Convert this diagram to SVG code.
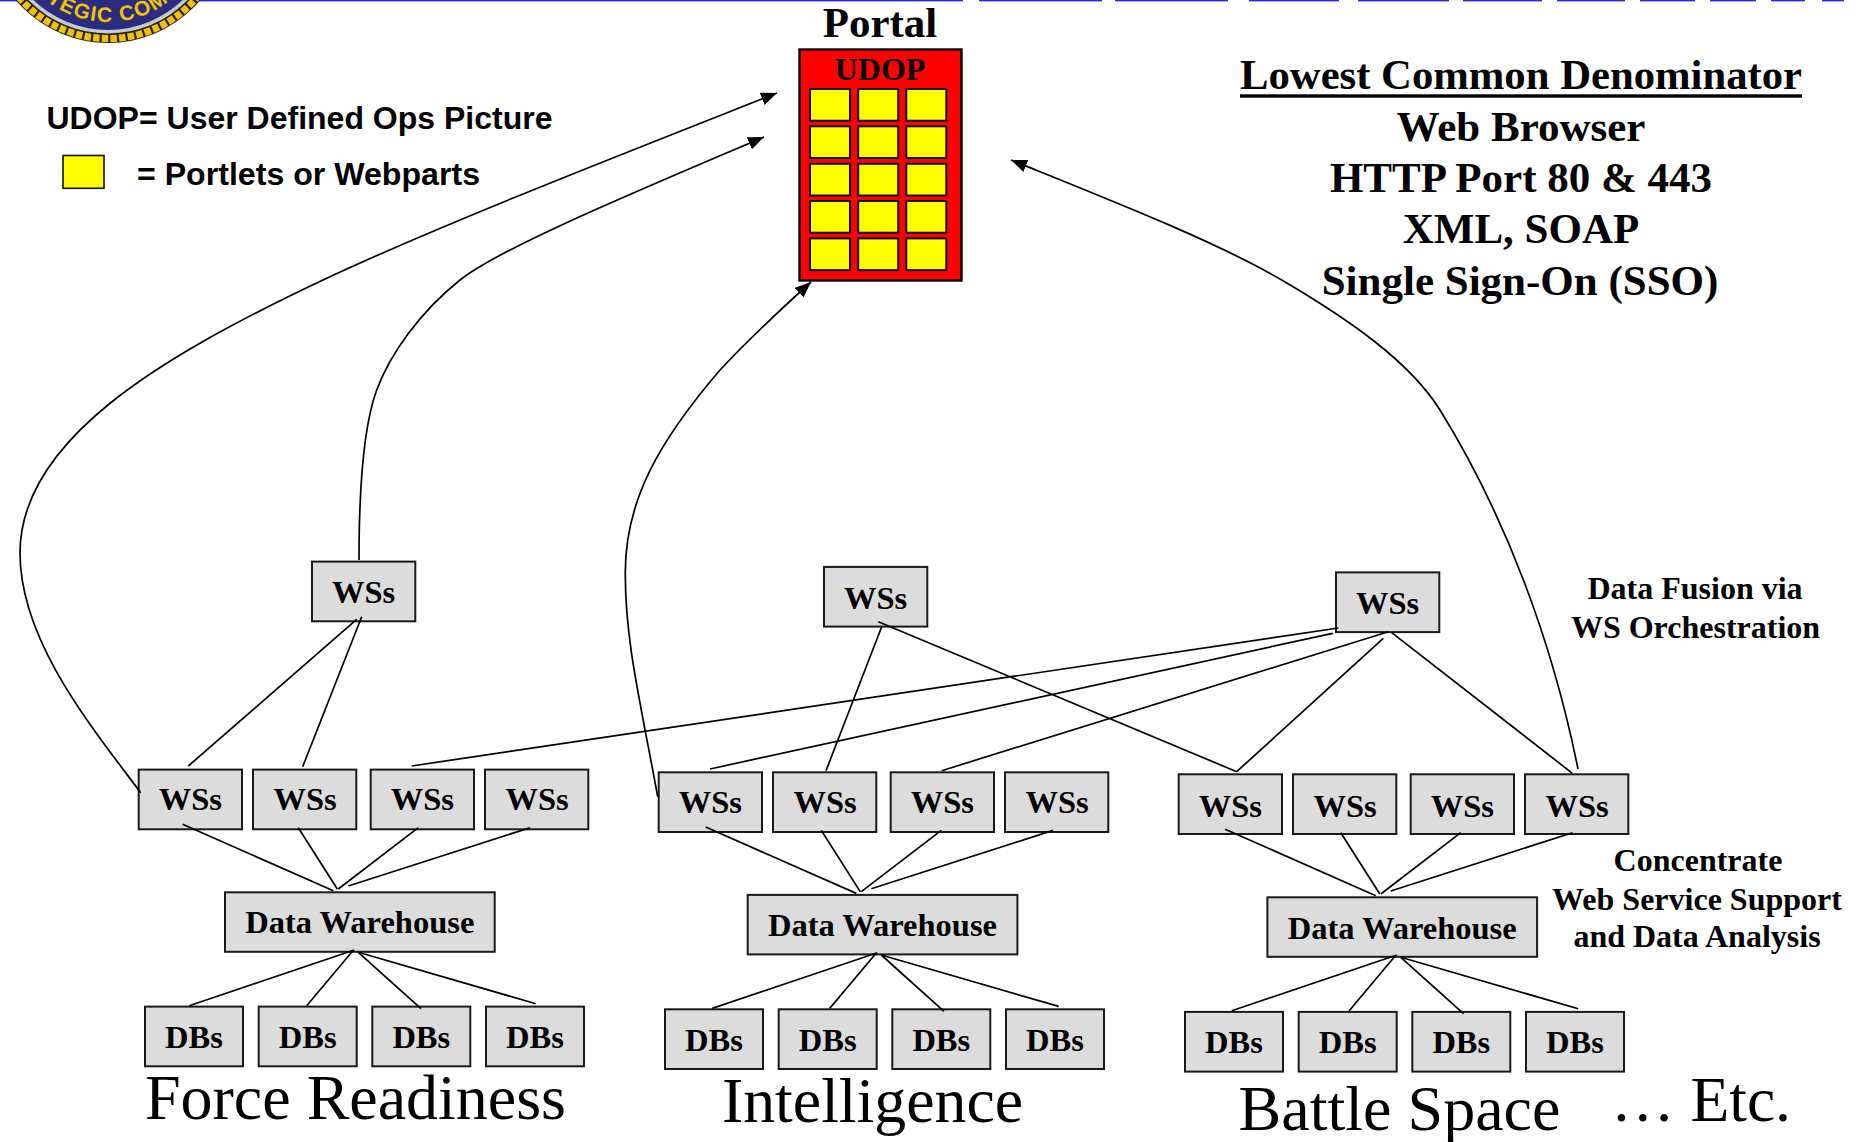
<svg xmlns="http://www.w3.org/2000/svg" width="1866" height="1142" viewBox="0 0 1866 1142">
<style>
text{font-family:"Liberation Serif","Times New Roman",serif;fill:#000}
.b{font-weight:bold;text-anchor:middle;font-size:32.5px}
.l{font-weight:bold;text-anchor:middle;font-size:43px}
.n{font-weight:bold;text-anchor:middle;font-size:32px}
.big{font-size:63px}
.sans{font-family:"Liberation Sans",Arial,sans-serif;font-weight:bold;font-size:31px}
.box{fill:#dcdcdc;stroke:#1a1a1a;stroke-width:2}
.ws{width:103.3px;height:59.7px}
.dw{width:269.7px;height:59.5px}
.db{width:98px;height:59.7px}
.y{fill:#ff0;stroke:#111;stroke-width:2;width:40px;height:31.7px}
.c{fill:none;stroke:#000;stroke-width:1.7}
.top{fill:#2a2ad8}
</style>
<defs>
<marker id="arrow" markerUnits="userSpaceOnUse" markerWidth="18" markerHeight="14" refX="16" refY="6.5" orient="auto"><path d="M0,0 L16,6.5 L0,13 Z" fill="#000"/></marker>
<path id="sealArc" d="M8,-78 A100,100 0 0 0 208,-78"/>
</defs>
<rect id="rule0" class="top" x="0" y="0" width="963" height="1.4"/>
<g id="rule-segments" class="top">
<rect x="979" y="0" width="123" height="1.4"/><rect x="1115" y="0" width="113" height="1.4"/><rect x="1249" y="0" width="90" height="1.4"/><rect x="1358" y="0" width="91" height="1.4"/><rect x="1463" y="0" width="79" height="1.4"/><rect x="1557" y="0" width="68" height="1.4"/><rect x="1640" y="0" width="55" height="1.4"/><rect x="1710" y="0" width="46" height="1.4"/><rect x="1771" y="0" width="34" height="1.4"/><rect x="1822" y="0" width="22" height="1.4"/>
</g>
<g id="seal">
<circle cx="108" cy="-78" r="121" fill="#2b2420"/>
<circle cx="108" cy="-78" r="116.5" fill="none" stroke="#f2c200" stroke-width="7" stroke-dasharray="6.5 2.2"/>
<circle cx="108" cy="-78" r="111.5" fill="#c4cccc"/>
<circle cx="108" cy="-78" r="108" fill="#2b2b80"/>
<text font-size="21" style="font-family:'Liberation Sans',Arial,sans-serif;font-weight:bold;fill:#f2c200;text-anchor:middle;letter-spacing:1.5px"><textPath href="#sealArc" startOffset="50%">TEGIC COM</textPath></text>
</g>
<g id="portal">
<text class="l" x="880" y="37.3" style="font-size:43px">Portal</text>
<rect x="799.5" y="49.5" width="162" height="231" fill="#f00" stroke="#000" stroke-width="2.4"/>
<text class="l" x="880" y="80" style="font-size:32px">UDOP</text>
<g id="portlets">
<rect class="y" x="810" y="89"/><rect class="y" x="858.2" y="89"/><rect class="y" x="906.3" y="89"/>
<rect class="y" x="810" y="126.3"/><rect class="y" x="858.2" y="126.3"/><rect class="y" x="906.3" y="126.3"/>
<rect class="y" x="810" y="163.8"/><rect class="y" x="858.2" y="163.8"/><rect class="y" x="906.3" y="163.8"/>
<rect class="y" x="810" y="201"/><rect class="y" x="858.2" y="201"/><rect class="y" x="906.3" y="201"/>
<rect class="y" x="810" y="238.4"/><rect class="y" x="858.2" y="238.4"/><rect class="y" x="906.3" y="238.4"/>
</g>
</g>
<g id="legend">
<text class="sans" x="46.5" y="129" textLength="506" lengthAdjust="spacingAndGlyphs">UDOP= User Defined Ops Picture</text>
<rect x="63" y="155.5" width="41" height="32.8" fill="#ff0" stroke="#111" stroke-width="1.6"/>
<text class="sans" x="137" y="185" textLength="343" lengthAdjust="spacingAndGlyphs">= Portlets or Webparts</text>
</g>
<g id="notes">
<text class="l" x="1240" y="89" textLength="562" lengthAdjust="spacingAndGlyphs" style="text-anchor:start">Lowest Common Denominator</text>
<rect x="1240" y="94.3" width="562" height="3.4" fill="#000"/>
<text class="l" x="1521" y="140.7">Web Browser</text>
<text class="l" x="1521" y="191.7">HTTP Port 80 &amp; 443</text>
<text class="l" x="1521" y="242.7">XML, SOAP</text>
<text class="l" x="1520" y="295">Single Sign-On (SSO)</text>
<text class="n" x="1695" y="599.3">Data Fusion via</text>
<text class="n" x="1695.5" y="637.8">WS Orchestration</text>
<text class="n" x="1698" y="871">Concentrate</text>
<text class="n" x="1697" y="909.5">Web Service Support</text>
<text class="n" x="1697" y="947">and Data Analysis</text>
</g>
<g id="nodes" transform="translate(0,0.6)">
<g id="ws-top-1"><rect class="box ws" x="312" y="561"/><text class="b" x="363.6" y="602.3">WSs</text></g>
<g id="ws-top-2"><rect class="box ws" x="824" y="566.3"/><text class="b" x="875.6" y="608">WSs</text></g>
<g id="ws-top-3"><rect class="box ws" x="1336" y="571.8"/><text class="b" x="1387.6" y="613.3">WSs</text></g>
<g id="force-readiness">
<g id="fr-ws1"><rect class="box ws" x="138.7" y="769"/><text class="b" x="190.3" y="809.3">WSs</text></g>
<g id="fr-ws2"><rect class="box ws" x="253" y="769"/><text class="b" x="305" y="809.3">WSs</text></g>
<g id="fr-ws3"><rect class="box ws" x="370.7" y="769"/><text class="b" x="422.3" y="809.3">WSs</text></g>
<g id="fr-ws4"><rect class="box ws" x="485" y="769"/><text class="b" x="537" y="809.3">WSs</text></g>
<g id="fr-dw"><rect class="box dw" x="225" y="891.7"/><text class="b" x="359.8" y="932.7">Data Warehouse</text></g>
<g id="fr-db1"><rect class="box db" x="145" y="1006"/><text class="b" x="194" y="1047.3">DBs</text></g>
<g id="fr-db2"><rect class="box db" x="258.7" y="1006"/><text class="b" x="307.7" y="1047.3">DBs</text></g>
<g id="fr-db3"><rect class="box db" x="372.3" y="1006"/><text class="b" x="421.3" y="1047.3">DBs</text></g>
<g id="fr-db4"><rect class="box db" x="486" y="1006"/><text class="b" x="535" y="1047.3">DBs</text></g>
<text class="big" x="145" y="1118.5" textLength="421" lengthAdjust="spacingAndGlyphs">Force Readiness</text>
</g>
<g id="intelligence">
<g id="in-ws1"><rect class="box ws" x="658.7" y="771.7"/><text class="b" x="710.3" y="812.3">WSs</text></g>
<g id="in-ws2"><rect class="box ws" x="773" y="771.7"/><text class="b" x="825" y="812.3">WSs</text></g>
<g id="in-ws3"><rect class="box ws" x="890.7" y="771.7"/><text class="b" x="942.3" y="812.3">WSs</text></g>
<g id="in-ws4"><rect class="box ws" x="1005" y="771.7"/><text class="b" x="1057" y="812.3">WSs</text></g>
<g id="in-dw"><rect class="box dw" x="747.7" y="894.3"/><text class="b" x="882.5" y="935.7">Data Warehouse</text></g>
<g id="in-db1"><rect class="box db" x="665" y="1008.7"/><text class="b" x="714" y="1050">DBs</text></g>
<g id="in-db2"><rect class="box db" x="778.7" y="1008.7"/><text class="b" x="827.7" y="1050">DBs</text></g>
<g id="in-db3"><rect class="box db" x="892.3" y="1008.7"/><text class="b" x="941.3" y="1050">DBs</text></g>
<g id="in-db4"><rect class="box db" x="1006" y="1008.7"/><text class="b" x="1055" y="1050">DBs</text></g>
<text class="big" x="722" y="1121" textLength="301" lengthAdjust="spacingAndGlyphs">Intelligence</text>
</g>
<g id="battle-space">
<g id="bs-ws1"><rect class="box ws" x="1178.7" y="773.7"/><text class="b" x="1230.3" y="816">WSs</text></g>
<g id="bs-ws2"><rect class="box ws" x="1293" y="773.7"/><text class="b" x="1345" y="816">WSs</text></g>
<g id="bs-ws3"><rect class="box ws" x="1410.7" y="773.7"/><text class="b" x="1462.3" y="816">WSs</text></g>
<g id="bs-ws4"><rect class="box ws" x="1525" y="773.7"/><text class="b" x="1577" y="816">WSs</text></g>
<g id="bs-dw"><rect class="box dw" x="1267.4" y="896.7"/><text class="b" x="1402.2" y="938.3">Data Warehouse</text></g>
<g id="bs-db1"><rect class="box db" x="1185" y="1011.3"/><text class="b" x="1234" y="1052.7">DBs</text></g>
<g id="bs-db2"><rect class="box db" x="1298.7" y="1011.3"/><text class="b" x="1347.7" y="1052.7">DBs</text></g>
<g id="bs-db3"><rect class="box db" x="1412.3" y="1011.3"/><text class="b" x="1461.3" y="1052.7">DBs</text></g>
<g id="bs-db4"><rect class="box db" x="1526" y="1011.3"/><text class="b" x="1575" y="1052.7">DBs</text></g>
<text class="big" x="1238.5" y="1129" textLength="322" lengthAdjust="spacingAndGlyphs">Battle Space</text>
</g>
<text class="big" id="etc" x="1611" y="1120.5" textLength="180" lengthAdjust="spacingAndGlyphs">… Etc.</text>
</g>
<g id="connectors">
<path class="c" d="M182.7,824.3 L333.3,890.7 M298.3,827.7 L337.3,889 M418.3,827.7 L338.3,889 M530,827.7 L348.3,886 M354.3,950 L189.3,1005.7 M353.3,950.3 L306.7,1005.7 M358.3,952.3 L421,1008.7 M358.3,952.3 L535.7,1003.7"/>
<path class="c" d="M705.7,827 L856.3,893.4 M821.3,830.4 L860.3,891.7 M941.3,830.4 L861.3,891.7 M1053,830.4 L871.3,888.7 M877.3,952.7 L712.3,1008.4 M876.3,953 L829.7,1008.4 M881.3,955 L944,1011.4 M881.3,955 L1058.7,1006.4"/>
<path class="c" d="M1225.2,829.3 L1375.8,895.7 M1340.8,832.7 L1379.8,894 M1460.8,832.7 L1380.8,894 M1572.5,832.7 L1390.8,891 M1396.8,955 L1231.8,1010.7 M1395.8,955.3 L1349.2,1010.7 M1400.8,957.3 L1463.5,1013.7 M1400.8,957.3 L1578.2,1008.7"/>
<path class="c" d="M356.7,619.3 L188.3,766 M361.7,616.7 L302.7,766.7 M878.3,621.7 L1236.7,771.7 M881.7,626.7 L826,770.7 M1338.3,628 L411.7,766 M1332.7,633.3 L710,769 M1388.3,631.7 L941.7,770.7 M1383.3,638.3 L1236.7,771.7 M1391.7,632.7 L1572.4,773.3"/>
<path class="c" marker-end="url(#arrow)" d="M140.7,792.7 C90,725 20,640 20,553 C20,440 160,357 323,280 C440,225 620,155 777,93"/>
<path class="c" marker-end="url(#arrow)" d="M359,560 C359,500 362,430 376.7,390 C390,354 420,312 460,280 C500,248 640,190 764,137"/>
<path class="c" marker-end="url(#arrow)" d="M657.7,796.7 C640,700 625,640 625.3,573 C625,500 660,440 720,370 C750,338 780,310 811,282"/>
<path class="c" marker-end="url(#arrow)" d="M1578,769 C1552,640 1505,515 1440,410 C1410,362 1350,320 1281.7,280 C1215,241 1110,200 1011,160"/>
</g>
</svg>
